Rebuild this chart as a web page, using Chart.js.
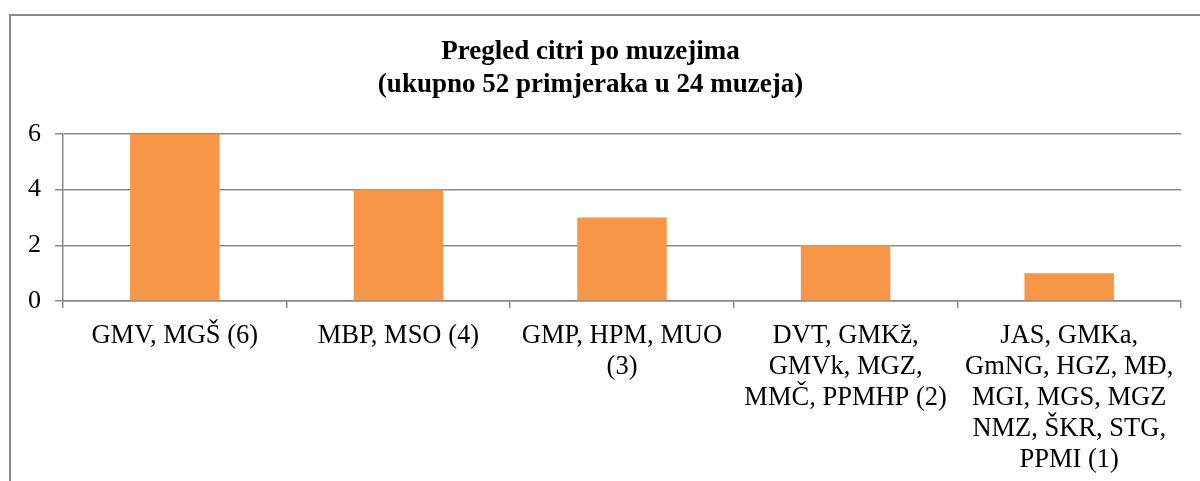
<!DOCTYPE html>
<html>
<head>
<meta charset="utf-8">
<script src="https://cdn.jsdelivr.net/npm/chart.js@4"></script>
<style>
    body { margin: 0; background: #fff; }
    #frame {
        position: absolute; left: 9px; top: 14px;
        width: 1300px; height: 600px;
        border: 2px solid #8a8a8a;
    }
    #wrap { position: absolute; left: 0; top: 0; width: 1200px; height: 481px; }
</style>
</head>
<body>
<div id="frame"></div>
<div id="wrap"><canvas id="myChart" width="1200" height="481"></canvas></div>
<script>
// kategorije (muzeji) i broj primjeraka
const kategorije = [
    ["GMV, MGŠ (6)"],
    ["MBP, MSO (4)"],
    ["GMP, HPM, MUO", "(3)"],
    ["DVT, GMKž,", "GMVk, MGZ,", "MMČ, PPMHP (2)"],
    ["JAS, GMKa,", "GmNG, HGZ, MĐ,", "MGI, MGS, MGZ", "NMZ, ŠKR, STG,", "PPMI (1)"]
];
const vrijednosti = [6, 4, 3, 2, 1];
const naslov = ["Pregled citri po muzejima", "(ukupno 52 primjeraka u 24 muzeja)"];
const yTicks = [0, 2, 4, 6];

const siva = "#8a8a8a";
const font = "'Liberation Serif', 'Times New Roman', serif";

var ctx = document.getElementById("myChart").getContext("2d");
var lienzo = new Chart(ctx, {
    type: "bar",
    data: {
        labels: kategorije,
        datasets: [
            {
                data: vrijednosti,
                backgroundColor: "#F79646",
                barPercentage: 0.4,
                categoryPercentage: 1,
            },
        ],
    },
    options: {
        responsive: false,
        animation: false,
        layout: { padding: { left: 0, right: 19, top: 0, bottom: 0 } },
        plugins: {
            legend: { display: false },
            tooltip: { enabled: false },
            title: {
                display: true,
                text: naslov,
                color: "#000",
                font: { family: font, size: 27, weight: "bold", lineHeight: 1.22 },
                padding: { top: 36, bottom: 32 },
            },
        },
        scales: {
            y: {
                min: 0,
                max: 6,
                afterBuildTicks: function (s) {
                    s.ticks = yTicks.map(function (v) { return { value: v }; });
                },
                afterFit: function (s) { s.width = 63; },
                grid: { color: siva, lineWidth: 1.5, tickLength: 8 },
                border: { display: true, color: siva, width: 1.5 },
                ticks: {
                    color: "#000",
                    padding: 14,
                    font: { family: font, size: 26 },
                },
            },
            x: {
                afterFit: function (s) { s.height = 180; },
                grid: { drawOnChartArea: false, color: siva, lineWidth: 1.5, tickLength: 7 },
                border: { display: true, color: siva, width: 1.5 },
                ticks: {
                    color: "#000",
                    padding: 13,
                    maxRotation: 0,
                    autoSkip: false,
                    font: { family: font, size: 26.5, lineHeight: 1.17 },
                },
            },
        },
    },
});
</script>
</body>
</html>
